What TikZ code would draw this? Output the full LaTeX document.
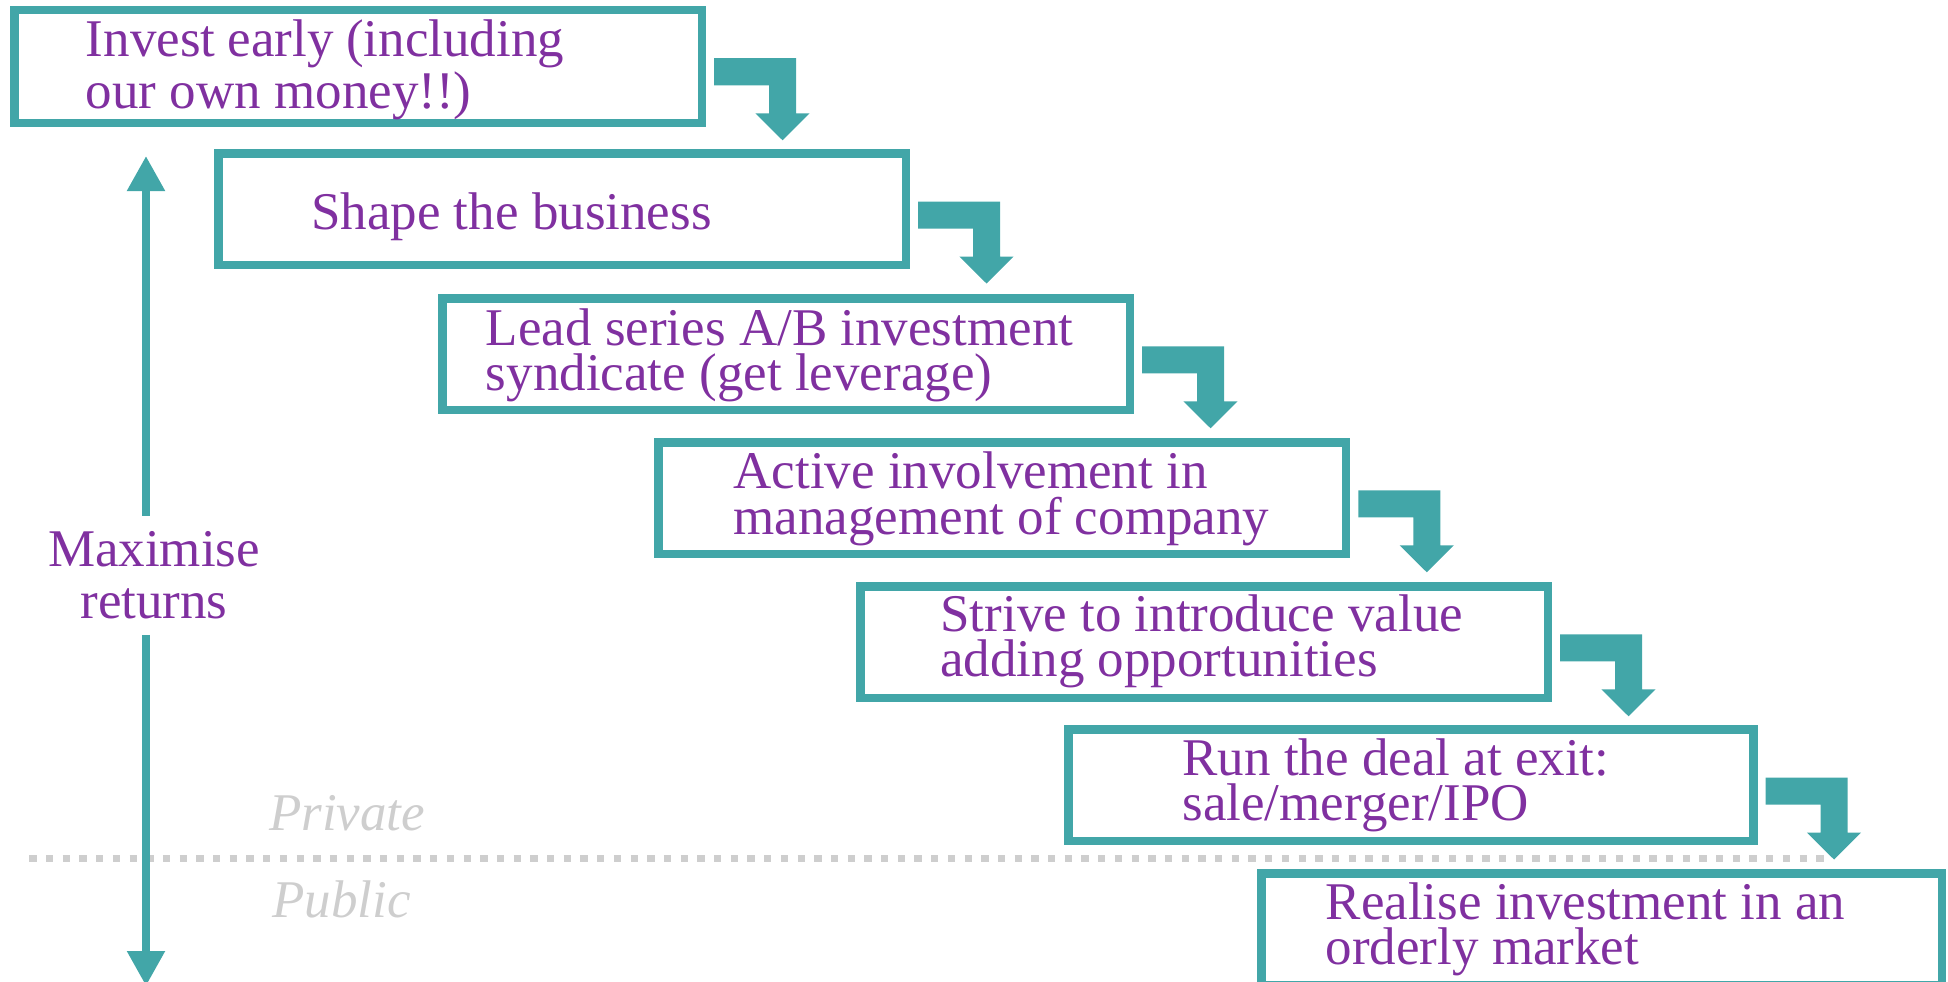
\documentclass[tikz,border=0pt]{standalone}
\usepackage{fontspec}
\setmainfont{Liberation Serif}
\usetikzlibrary{calc,arrows.meta}
\definecolor{stageteal}{RGB}{66,166,168}
\definecolor{stagepurple}{RGB}{128,48,160}
\definecolor{divgray}{RGB}{206,206,206}
\tikzset{
stagebox/.style = {draw = stageteal, line width = 8.5pt, rectangle, inner sep = 0pt, outer sep = 0pt, minimum width = 687.5pt, minimum height = 111.5pt, anchor = north west},
stagetext/.style = {color = stagepurple, font = \fontsize{53pt}{45pt}\selectfont, align = left, inner sep = 0pt, anchor = base west},
bendarrow/.style = {fill = stageteal},
retarrow/.style = {line width = 8.3pt, color = stageteal, -{Triangle[width=36pt,length=35pt]}},
sidetext/.style = {color = divgray, font = \fontsize{53pt}{45pt}\selectfont\itshape, inner sep = 0pt, anchor = base west},
divider/.style = {line width = 7.3pt, color = divgray, dash pattern = on 7.3pt off 9.4pt}}

\begin{document}
\begin{tikzpicture}[x=1pt,y=-1pt]
%
\useasboundingbox (0,0) rectangle (1948,982);
%
% bent arrow from one stage to the next
\def\stepbend#1{\fill[bendarrow] ($(#1.north east)+(12.25,48)$) -- ++(82,0) -- ++(0,55) -- ++(13.7,0) -- ++(-27.2,27) -- ++(-27.2,-27) -- ++(13.7,0) -- ++(0,-28) -- ++(-55,0) -- cycle;}
%
% private / public divider
\draw[divider] (29.3,858.7) -- (1832,858.7);
\node[sidetext] (priv) at (269,830) {Private};
\node[sidetext] (publ) at (272,917.7) {Public};
%
% stages
\node[stagebox, minimum height = 112.5pt] (s1) at (14.25,10.25) {};
\node[stagebox] (s2) at (218.25,153.5) {};
\node[stagebox] (s3) at (442.25,298.25) {};
\node[stagebox] (s4) at (658.5,442.25) {};
\node[stagebox] (s5) at (860.25,586.25) {};
\node[stagebox, minimum width = 685pt] (s6) at (1068.25,729.5) {};
\node[stagebox, minimum width = 680.5pt] (s7) at (1261.25,873.5) {};
%
% texts (base = baseline of the last line)
\node[stagetext, font = \fontsize{53pt}{52pt}\selectfont] (t1) at ($(s1.north west)+(71.5,98.5)$) {\makebox[478pt][s]{Invest early (including}\\our own money!!)};
\node[stagetext] (t2) at ($(s2.north west)+(92.75,75.8)$) {Shape the business};
\node[stagetext] (t3) at ($(s3.north west)+(43.5,91.75)$) {Lead series A/B investment\\syndicate (get leverage)};
\node[stagetext, font = \fontsize{53pt}{46.7pt}\selectfont] (t4) at ($(s4.north west)+(74.8,92.7)$) {Active involvement in\\management of company};
\node[stagetext] (t5) at ($(s5.north west)+(80,90.5)$) {Strive to introduce value\\adding opportunities};
\node[stagetext] (t6) at ($(s6.north west)+(114,91.2)$) {Run the deal at exit:\\sale/merger/IPO};
\node[stagetext] (t7) at ($(s7.north west)+(64.3,91)$) {Realise investment in an\\orderly market};
%
% arrows between stages
\stepbend{s1}
\stepbend{s2}
\stepbend{s3}
\stepbend{s4}
\stepbend{s5}
\stepbend{s6}
%
% returns axis
\coordinate (rettop) at (146,156);
\coordinate (retbot) at (146,986);
\node[stagetext, align = center, anchor = base, outer ysep = 16pt, font = \fontsize{53pt}{51.6pt}\selectfont] (gain) at (154,618.3) {Maximise\\returns};
\draw[retarrow] (gain.north -| rettop) -- (rettop);
\draw[retarrow] (gain.south -| retbot) -- (retbot);
%
\end{tikzpicture}
\end{document}
